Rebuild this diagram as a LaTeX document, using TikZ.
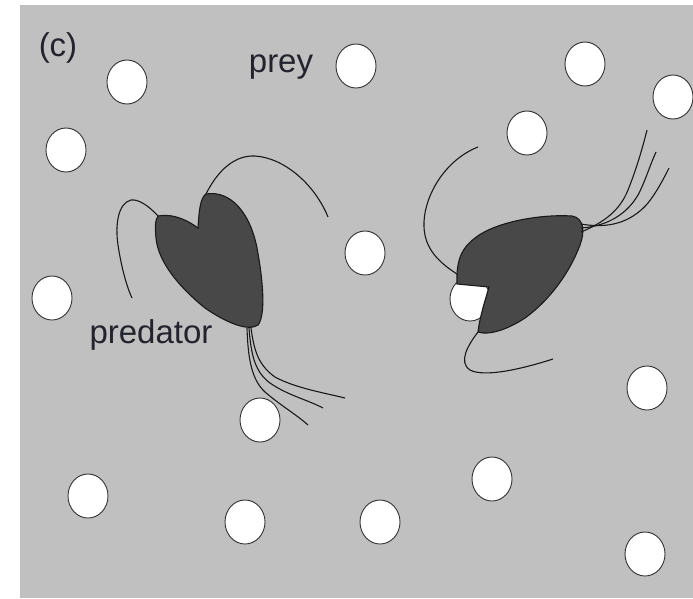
\documentclass[tikz,border=0pt]{standalone}
\usepackage{fontspec}
\setmainfont{Liberation Sans}
\usetikzlibrary{shapes.geometric}
\definecolor{water}{RGB}{192,192,192}
\definecolor{body}{RGB}{72,72,72}
\definecolor{ink}{RGB}{35,35,45}
\tikzset{
  prey/.style={ellipse,draw=black!80,fill=white,line width=0.9pt,minimum width=40pt,minimum height=44pt,inner sep=0pt},
  hair/.style={draw=black!90,line width=1.1pt},
  label/.style={text=ink,font=\fontsize{33}{40}\selectfont}
}
\begin{document}
\begin{tikzpicture}[x=1pt,y=-1pt]
\useasboundingbox (0,0) rectangle (693,598);
\fill[water] (20,5) rectangle (693,598);

% prey
\foreach \x/\y [count=\i] in {127/82, 66/150, 356/66, 585/64, 673/97, 527/133, 365/253,
    52/298, 647/388, 260/420, 88/496, 245/522, 380/522, 492/479, 645/554}
  \node[prey] (p\i) at (\x,\y) {};
\node[prey] (eaten) at (470,299) {};

\node[label] (c) at (58,48) {(c)};
\node[label] (preytext) at (281,67) {prey};
\node[label] (predtext) at (151,335) {predator};

% left predator
\coordinate (A) at (158,216);
\coordinate (N) at (198,228);
\coordinate (R) at (206,194);
\coordinate (T) at (249,328);
\draw[hair,fill=body] (A) .. controls (175,213) and (190,222) .. (N)
  .. controls (199,212) and (200,198) .. (R)
  .. controls (230,190) and (250,212) .. (257,248)
  .. controls (263,280) and (266,315) .. (258,325)
  .. controls (248,332) and (225,322) .. (205,308)
  .. controls (180,288) and (158,262) .. (156,238)
  .. controls (155,228) and (155,220) .. (A);
\draw[hair] (A) .. controls (148,205) and (138,199) .. (131,200)
  .. controls (118,203) and (115,225) .. (118,245)
  .. controls (121,265) and (126,285) .. (132,298);
\draw[hair] (R) .. controls (218,170) and (235,155) .. (255,156)
  .. controls (285,158) and (315,185) .. (328,217);
\draw[hair] ([xshift=2pt]T) .. controls (254,350) and (258,365) .. (275,377)
  .. controls (295,388) and (325,393) .. (345,398);
\draw[hair] (T) .. controls (251,355) and (255,372) .. (270,383)
  .. controls (287,395) and (308,400) .. (323,408);
\draw[hair] ([xshift=-2pt]T) .. controls (248,360) and (252,380) .. (265,392)
  .. controls (280,405) and (297,415) .. (308,425);

% right predator, with prey in its mouth
\coordinate (B) at (478,332);
\coordinate (M) at (457,274);
\coordinate (F) at (581,228);
\draw[hair,fill=body] (B) .. controls (480,315) and (486,298) .. (489,287)
  -- (457,284) -- (M)
  .. controls (458,258) and (462,248) .. (475,238)
  .. controls (495,222) and (540,214) .. (572,216)
  .. controls (584,218) and (585,232) .. (580,245)
  .. controls (570,272) and (550,300) .. (525,318)
  .. controls (510,328) and (490,336) .. (B);
\draw[hair] (M) .. controls (435,260) and (423,245) .. (424,222)
  .. controls (425,195) and (445,160) .. (478,147);
\draw[hair] (B) .. controls (468,345) and (458,362) .. (470,370)
  .. controls (485,378) and (525,368) .. (553,359);
\draw[hair] ([yshift=-4pt]F) .. controls (605,222) and (620,210) .. (628,190)
  .. controls (636,170) and (642,150) .. (647,130);
\draw[hair] (F) .. controls (610,226) and (628,212) .. (638,195)
  .. controls (645,182) and (650,165) .. (656,152);
\draw[hair] ([yshift=4pt]F) .. controls (615,230) and (635,218) .. (648,203)
  .. controls (656,193) and (663,180) .. (669,168);
\end{tikzpicture}
\end{document}
